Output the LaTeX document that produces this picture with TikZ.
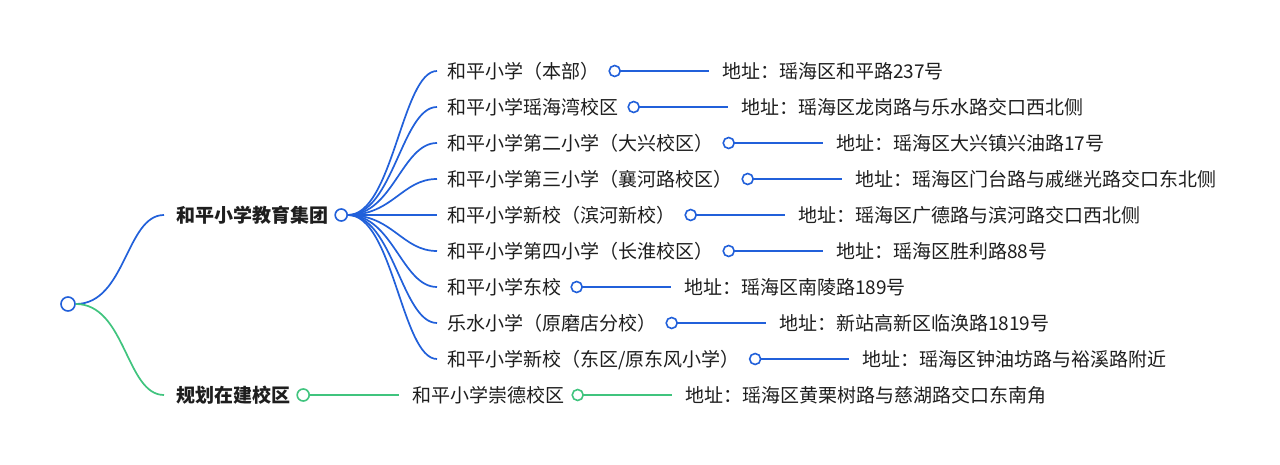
\documentclass[tikz,border=0pt]{standalone}
\usepackage{fontspec}
\setmainfont{Noto Sans CJK SC}
\definecolor{bl}{RGB}{33,96,218}
\definecolor{gr}{RGB}{64,196,126}
\definecolor{tx}{RGB}{30,30,30}
\tikzset{
  lbl/.style={anchor=west, inner sep=0pt, text=tx, font=\fontsize{19}{19}\selectfont, text height=16.7pt, text depth=2.3pt},
  blbl/.style={lbl, font=\fontsize{19}{19}\selectfont\bfseries},
  dot/.style={circle, draw, line width=1.6pt, fill=white, minimum size=11pt, inner sep=0pt, anchor=west},
  bline/.style={draw=bl, line width=1.7pt},
  gline/.style={draw=gr, line width=1.7pt},
}
\newcommand\campus[4]{%
  \node[lbl] (c#1) at (447,#2) {#3};
  \node[dot, draw=bl] (c#1o) at ([xshift=9pt]c#1.east) {};
  \node[lbl] (a#1) at ([xshift=101pt]c#1o.east) {#4};
  \draw[bline, shorten >=10pt] (g1o.east) .. controls +(45,0) and +(-45,0) .. (c#1.west);
  \draw[bline, shorten >=13pt] (c#1o.east) -- (a#1.west);
}
\begin{document}
\begin{tikzpicture}[x=1pt,y=-1pt]
\useasboundingbox[fill=white] (0,0) rectangle (1280,465);
\node[dot, draw=bl, minimum size=14pt, anchor=center] (root) at (68,304) {};
\node[blbl] (g1) at (176,215) {和平小学教育集团};
\node[dot, draw=bl, minimum size=12pt] (g1o) at ([xshift=6pt]g1.east) {};
\node[blbl] (g2) at (176,395) {规划在建校区};
\node[dot, draw=gr, minimum size=12pt] (g2o) at ([xshift=6pt]g2.east) {};
\draw[bline, shorten >=12pt] (root.east) .. controls +(50,0) and +(-50,0) .. (g1.west);
\draw[gline, shorten >=12pt] (root.east) .. controls +(50,0) and +(-50,0) .. (g2.west);
\campus{1}{71}{和平小学（本部）}{地址：瑶海区和平路237号}
\campus{2}{107}{和平小学瑶海湾校区}{地址：瑶海区龙岗路与乐水路交口西北侧}
\campus{3}{143}{和平小学第二小学（大兴校区）}{地址：瑶海区大兴镇兴油路17号}
\campus{4}{179}{和平小学第三小学（襄河路校区）}{地址：瑶海区门台路与戚继光路交口东北侧}
\campus{5}{215}{和平小学新校（滨河新校）}{地址：瑶海区广德路与滨河路交口西北侧}
\campus{6}{251}{和平小学第四小学（长淮校区）}{地址：瑶海区胜利路88号}
\campus{7}{287}{和平小学东校}{地址：瑶海区南陵路189号}
\campus{8}{323}{乐水小学（原磨店分校）}{地址：新站高新区临涣路1819号}
\campus{9}{359}{和平小学新校（东区/原东风小学）}{地址：瑶海区钟油坊路与裕溪路附近}
\node[lbl] (p1) at ([xshift=102pt]g2o.east) {和平小学崇德校区};
\node[dot, draw=gr] (p1o) at ([xshift=7pt]p1.east) {};
\node[lbl] (pa1) at ([xshift=101pt]p1o.east) {地址：瑶海区黄栗树路与慈湖路交口东南角};
\draw[gline, shorten >=13pt] (g2o.east) -- (p1.west);
\draw[gline, shorten >=13pt] (p1o.east) -- (pa1.west);
\end{tikzpicture}
\end{document}
